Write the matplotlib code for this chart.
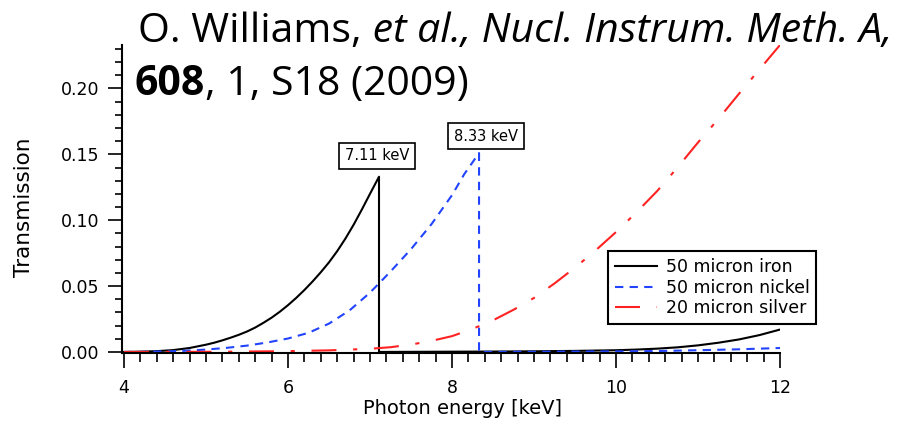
import matplotlib
matplotlib.use("Agg")
import matplotlib.pyplot as plt
from matplotlib.ticker import MultipleLocator, FormatStrFormatter

# K-edge energies (keV)
IRON_EDGE = 7.11
NICKEL_EDGE = 8.33

# transmission through the foils vs photon energy
IRON_E = [4.0, 4.2, 4.4, 4.6, 4.8, 5.0, 5.1, 5.2, 5.3, 5.4, 5.5, 5.6, 5.7, 5.8, 5.9,
          6.0, 6.1, 6.2, 6.3, 6.4, 6.5, 6.6, 6.7, 6.8, 6.9, 7.0, IRON_EDGE,
          IRON_EDGE, 8.0, 8.5, 9.0, 9.5, 10.0, 10.25, 10.5, 10.75, 11.0, 11.25, 11.5, 11.75, 12.0]
IRON_T = [0.0, 0.0002, 0.0006, 0.0014, 0.0030, 0.0055, 0.0070, 0.0088, 0.0108, 0.0130, 0.0155,
          0.0185, 0.0221, 0.0260, 0.0305,
          0.0355, 0.0410, 0.0470, 0.0535, 0.0605, 0.0680, 0.0765, 0.0860, 0.0965, 0.1080, 0.1200, 0.133,
          0.0, 0.0002, 0.0003, 0.0005, 0.0008, 0.0013, 0.0018, 0.0025, 0.0035, 0.0050, 0.0070, 0.0095,
          0.0128, 0.017]

NICKEL_E = [4.0, 4.25, 4.5, 4.75, 5.0, 5.25, 5.5, 5.75, 6.0, 6.25, 6.5, 6.75, 7.0, 7.25, 7.5,
            7.75, 8.0, 8.15, NICKEL_EDGE,
            NICKEL_EDGE, 9.0, 10.0, 10.5, 11.0, 11.5, 12.0]
NICKEL_T = [0.0, 0.0001, 0.0004, 0.0009, 0.0018, 0.0031, 0.0048, 0.0072, 0.0102, 0.0145, 0.0215,
            0.0315, 0.045, 0.061, 0.078, 0.097, 0.119, 0.135, 0.151,
            0.0, 0.0001, 0.0004, 0.0007, 0.0013, 0.0020, 0.003]

SILVER_E = [4.0, 4.5, 5.0, 5.5, 6.0, 6.5, 7.0, 7.25, 7.5, 7.75, 8.0, 8.25, 8.5, 8.75, 9.0,
            9.25, 9.5, 9.75, 10.0, 10.25, 10.5, 10.75, 11.0, 11.25, 11.5, 11.75, 12.0]
SILVER_T = [0.0, 0.00003, 0.0001, 0.0003, 0.0006, 0.0012, 0.0024, 0.0036, 0.0056, 0.0084, 0.012,
            0.0175, 0.024, 0.032, 0.041, 0.052, 0.064, 0.077, 0.091, 0.106, 0.122, 0.140, 0.159,
            0.177, 0.196, 0.2145, 0.233]

LABELS = ["50 micron iron", "50 micron nickel", "20 micron silver"]

W, H = 904, 424

fig = plt.figure(figsize=(W / 100, H / 100), dpi=100)
ax = fig.add_axes([122 / W, 71 / H, 658 / W, 308 / H])

ax.plot(IRON_E, IRON_T, color="black", lw=1.5, label=LABELS[0])
ax.plot(NICKEL_E, NICKEL_T, color="#2244ff", lw=1.5, linestyle=(0, (4, 3)), label=LABELS[1])
ax.plot(SILVER_E, SILVER_T, color="#ff2222", lw=1.5, linestyle=(0, (12, 8, 2, 8)), label=LABELS[2])

ax.set_xlim(3.976, 12.0)
ax.set_ylim(-0.0008, 0.233)

for s in ("top", "right"):
    ax.spines[s].set_visible(False)
for s in ("left", "bottom"):
    ax.spines[s].set_linewidth(1.5)

ax.xaxis.set_major_locator(MultipleLocator(2))
ax.xaxis.set_minor_locator(MultipleLocator(0.2))
ax.yaxis.set_major_locator(MultipleLocator(0.05))
ax.yaxis.set_minor_locator(MultipleLocator(0.01))
ax.yaxis.set_major_formatter(FormatStrFormatter("%.2f"))
ax.tick_params(axis="x", which="major", direction="out", length=10.5, width=1.2, labelsize=12.5, pad=8)
ax.tick_params(axis="x", which="minor", direction="out", length=6.7, width=1.2)
ax.tick_params(axis="y", which="major", direction="out", length=10, width=1.2, labelsize=12.5, pad=6)
ax.tick_params(axis="y", which="minor", direction="out", length=5, width=1.2)

ax.set_xlabel("Photon energy [keV]", fontsize=14)
ax.xaxis.set_label_coords(0.517, -0.15)
ax.set_ylabel("Transmission", fontsize=15.5)
ax.yaxis.set_label_coords(-0.134, 0.474)

# edge markers
box = dict(boxstyle="square,pad=0.38", fc="white", ec="black", lw=1.2)
ax.annotate(f"{IRON_EDGE:.2f} keV", xy=(IRON_EDGE, max(IRON_T)), xytext=(-1.5, 15),
            textcoords="offset points", ha="center", va="center", fontsize=10.5, bbox=box)
ax.annotate(f"{NICKEL_EDGE:.2f} keV", xy=(NICKEL_EDGE, max(NICKEL_T)), xytext=(5, 12),
            textcoords="offset points", ha="center", va="center", fontsize=10.5, bbox=box)

leg = ax.legend(loc="upper left", bbox_to_anchor=(0.739, 0.331), fontsize=12.5,
                frameon=True, fancybox=False, framealpha=1, edgecolor="black",
                handlelength=2.4, handletextpad=0.5, labelspacing=0.15, borderpad=0.4,
                borderaxespad=0)
leg.get_frame().set_linewidth(1.5)


# citation written as runs of differently styled text
def put_runs(x_px, y_px, runs, size):
    renderer = fig.canvas.get_renderer()
    x = x_px
    for txt, style, weight in runs:
        t = fig.text(x / W, 1 - y_px / H, txt, fontsize=size, family="Open Sans",
                     style=style, weight=weight, ha="left", va="baseline")
        x = t.get_window_extent(renderer).x1


put_runs(138, 42, [("O. Williams,", "normal", "normal"),
                   (" et al., Nucl. Instrum. Meth. A,", "italic", "normal")], 29.5)
put_runs(135, 95, [("608", "normal", "bold"),
                   (", 1, S18 (2009)", "normal", "normal")], 29.5)

fig.savefig("out.png", dpi=100)
